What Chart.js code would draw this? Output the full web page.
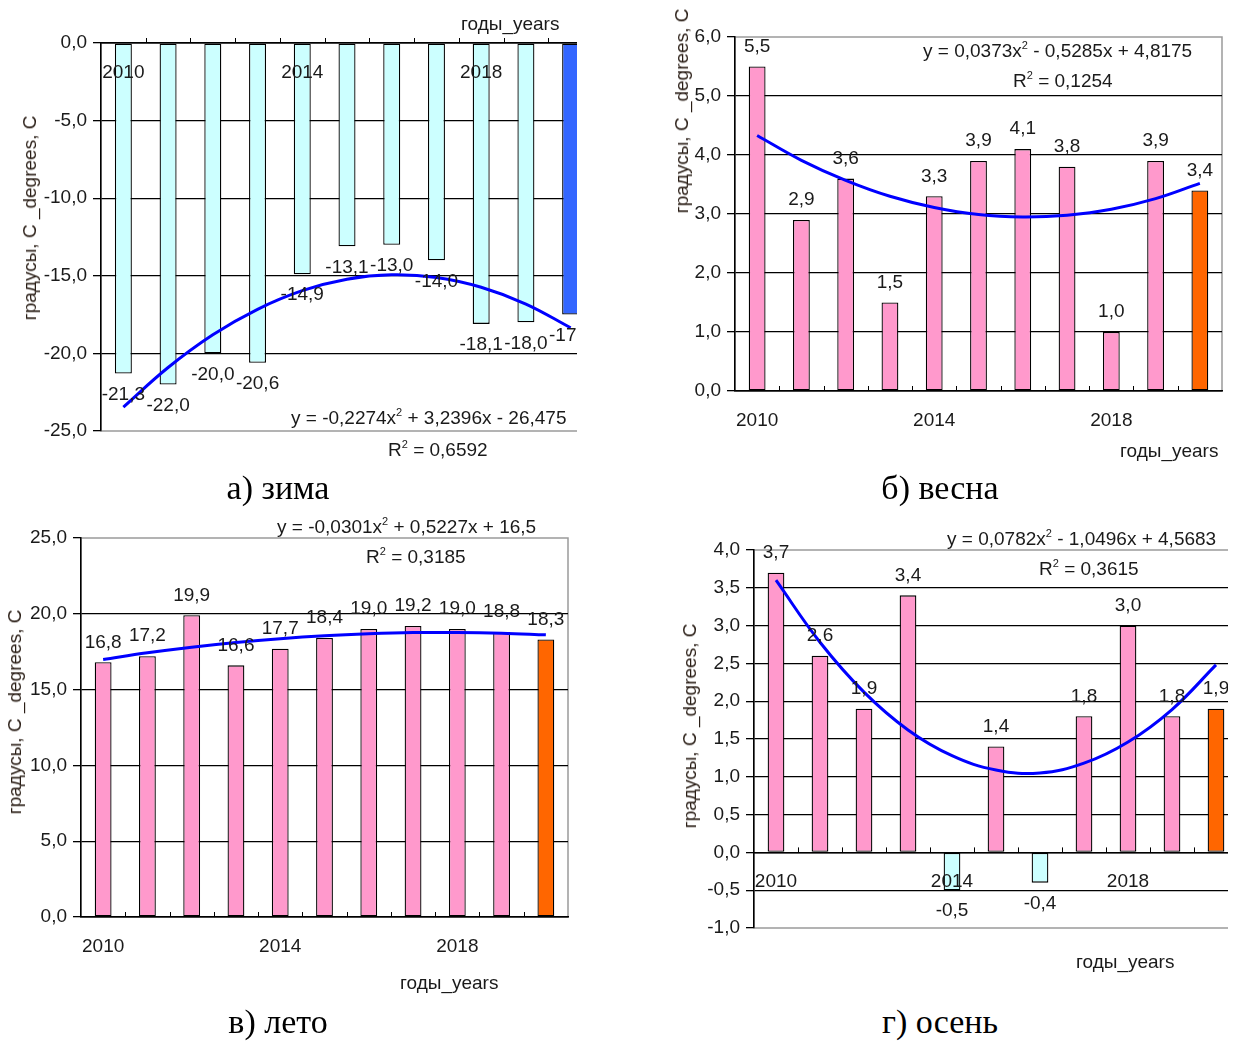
<!DOCTYPE html>
<html lang="ru">
<head>
<meta charset="utf-8">
<title>Температура воздуха по сезонам, 2010–2020</title>
<script src="https://cdn.jsdelivr.net/npm/chart.js@4.4.1/dist/chart.umd.min.js"></script>
<style>
  body { margin: 0; background: #fff; }
  #page { position: relative; width: 1244px; height: 1045px; overflow: hidden;
          font-family: "Liberation Sans", Arial, sans-serif; color: #1a1a1a; }
  .panel { position: absolute; overflow: hidden; }
  .panel canvas { position: absolute; left: 0; top: 0; }
  .txt { position: absolute; white-space: nowrap; font-size: 19px; line-height: 22px;
         transform: translateY(-50%); }
  .txt sup { font-size: 11px; vertical-align: 8px; line-height: 0; }
  .ytitle { position: absolute; white-space: nowrap; font-size: 19px; line-height: 22px;
            transform: translate(-50%, -50%) rotate(-90deg); color: #2a1e16; }
  .caption { position: absolute; white-space: nowrap; transform: translate(-50%, -50%);
             font-family: "Liberation Serif", "Times New Roman", serif; font-size: 34px; color: #000; }
</style>
</head>
<body>
<div id="page">
  <div class="panel" style="left:0;top:0;width:577px;height:470px;">
    <canvas id="zima" width="600" height="470"></canvas>
    <div class="txt" style="left:461px;top:24px;">годы_years</div>
    <div class="txt" style="left:291px;top:418px;">y = -0,2274x<sup>2</sup> + 3,2396x - 26,475</div>
  </div>
  <div class="panel" style="left:640px;top:0;width:604px;height:470px;">
    <canvas id="vesna" width="604" height="470"></canvas>
  </div>
  <div class="panel" style="left:0;top:510px;width:600px;height:500px;">
    <canvas id="leto" width="600" height="500"></canvas>
  </div>
  <div class="panel" style="left:640px;top:520px;width:588px;height:480px;">
    <canvas id="osen" width="604" height="480"></canvas>
  </div>

  <!-- подписи зима -->
  <div class="txt" style="left:388px;top:450px;">R<sup>2</sup> = 0,6592</div>
  <div class="ytitle" style="left:30px;top:218px;">градусы, С _degrees, С</div>
  <div class="caption" style="left:278px;top:488px;">а) зима</div>

  <!-- подписи весна -->
  <div class="txt" style="left:923px;top:51px;">y = 0,0373x<sup>2</sup> - 0,5285x + 4,8175</div>
  <div class="txt" style="left:1013px;top:81px;">R<sup>2</sup> = 0,1254</div>
  <div class="txt" style="left:1120px;top:451px;">годы_years</div>
  <div class="ytitle" style="left:682px;top:111px;">градусы, С _degrees, С</div>
  <div class="caption" style="left:940px;top:488px;">б) весна</div>

  <!-- подписи лето -->
  <div class="txt" style="left:277px;top:527px;">y = -0,0301x<sup>2</sup> + 0,5227x + 16,5</div>
  <div class="txt" style="left:366px;top:557px;">R<sup>2</sup> = 0,3185</div>
  <div class="txt" style="left:400px;top:983px;">годы_years</div>
  <div class="ytitle" style="left:15px;top:712px;">градусы, С _degrees, С</div>
  <div class="caption" style="left:278px;top:1022px;">в) лето</div>

  <!-- подписи осень -->
  <div class="txt" style="left:947px;top:539px;">y = 0,0782x<sup>2</sup> - 1,0496x + 4,5683</div>
  <div class="txt" style="left:1039px;top:569px;">R<sup>2</sup> = 0,3615</div>
  <div class="txt" style="left:1076px;top:962px;">годы_years</div>
  <div class="ytitle" style="left:690px;top:726px;">градусы, С _degrees, С</div>
  <div class="caption" style="left:940px;top:1022px;">г) осень</div>
</div>

<script>
// données
const years = ['2010', '2011', '2012', '2013', '2014', '2015', '2016', '2017', '2018', '2019', '2020'];
const xTickLabels = ['2010', '2014', '2018'];

const zimaTemps = [-21.3, -22.0, -20.0, -20.6, -14.9, -13.1, -13.0, -14.0, -18.1, -18.0, -17.5];
const zimaTrend = [-23.46, -20.91, -18.80, -17.16, -15.96, -15.22, -14.94, -15.11, -15.74, -16.82, -18.35];

const vesnaTemps = [5.5, 2.9, 3.6, 1.5, 3.3, 3.9, 4.1, 3.8, 1.0, 3.9, 3.4];
const vesnaTrend = [4.33, 3.91, 3.57, 3.30, 3.11, 2.99, 2.95, 2.98, 3.08, 3.26, 3.52];

const letoTemps = [16.8, 17.2, 19.9, 16.6, 17.7, 18.4, 19.0, 19.2, 19.0, 18.8, 18.3];
const letoTrend = [16.99, 17.43, 17.80, 18.11, 18.36, 18.55, 18.68, 18.76, 18.77, 18.72, 18.61];

const osenTemps = [3.7, 2.6, 1.9, 3.4, -0.5, 1.4, -0.4, 1.8, 3.0, 1.8, 1.9];
const osenTrend = [3.60, 2.78, 2.12, 1.62, 1.28, 1.09, 1.05, 1.18, 1.46, 1.89, 2.48];

const PINK = '#FF99CC';
const CYAN = '#CCFFFF';
const FONT = { family: '"Liberation Sans", Arial, sans-serif', size: 19 };
const fmt = v => v.toFixed(1).replace('.', ',');

// petits traits sur l'axe des années + cadre gris + étiquettes des barres
const decorPlugin = {
  id: 'decor',
  beforeDraw(chart) {
    const a = chart.chartArea;
    const ctx = chart.ctx;
    ctx.save();
    ctx.strokeStyle = '#9a9a9a';
    ctx.lineWidth = 1.5;
    ctx.strokeRect(a.left, a.top, a.right - a.left, a.bottom - a.top);
    ctx.restore();
  },
  afterDatasetsDraw(chart) {
    const ctx = chart.ctx;
    const x = chart.scales.x;
    const y0 = chart.scales.y.getPixelForValue(0);
    const n = chart.data.labels.length;
    const step = (x.right - x.left) / n;
    ctx.save();
    ctx.strokeStyle = '#000';
    ctx.lineWidth = 1;
    for (let i = 1; i < n; i++) {
      const px = Math.round(x.left + i * step) + 0.5;
      ctx.beginPath();
      ctx.moveTo(px, y0);
      ctx.lineTo(px, y0 - 5);
      ctx.stroke();
    }
    const values = chart.data.datasets[1].data;
    const meta = chart.getDatasetMeta(1);
    ctx.fillStyle = '#1a1a1a';
    ctx.font = '19px "Liberation Sans", Arial, sans-serif';
    ctx.textAlign = 'center';
    ctx.textBaseline = 'middle';
    meta.data.forEach((bar, i) => {
      const v = values[i];
      ctx.fillText(fmt(v), bar.x, v < 0 ? bar.y + 21 : bar.y - 20);
    });
    ctx.restore();
  }
};

function makePanel(id, temps, trend, opt) {
  const colors = temps.map((v, i) => {
    if (i === temps.length - 1) return opt.lastColor;
    return v < 0 ? CYAN : PINK;
  });
  return new Chart(document.getElementById(id), {
    type: 'bar',
    data: {
      labels: years,
      datasets: [
        {
          type: 'line',
          data: trend,
          borderColor: '#0000FF',
          borderWidth: 3,
          pointRadius: 0,
          tension: 0.4,
          fill: false,
          order: 0
        },
        {
          type: 'bar',
          data: temps,
          backgroundColor: colors,
          borderColor: '#000',
          borderWidth: 1.3,
          borderSkipped: false,
          categoryPercentage: 1,
          barPercentage: 0.38,
          order: 1
        }
      ]
    },
    options: {
      responsive: false,
      animation: false,
      devicePixelRatio: 1,
      layout: { padding: opt.padding },
      plugins: { legend: { display: false }, tooltip: { enabled: false } },
      scales: {
        x: {
          position: { y: 0 },
          grid: { display: false },
          border: { display: true, color: '#000', width: 1.5, z: 1 },
          ticks: {
            z: 1,
            autoSkip: false,
            maxRotation: 0,
            padding: 10,
            color: '#1a1a1a',
            font: FONT,
            callback: (val, idx) => (xTickLabels.includes(years[idx]) ? years[idx] : '')
          }
        },
        y: {
          min: opt.min,
          max: opt.max,
          afterFit: (scale) => { scale.width = opt.yWidth; },
          border: { display: true, color: '#000', width: 1.5 },
          grid: {
            color: (c) => (c.tick && (c.tick.value === opt.min || c.tick.value === opt.max) && c.tick.value !== 0 ? 'rgba(0,0,0,0)' : '#000'),
            tickColor: '#000',
            lineWidth: 1.3,
            tickLength: 8
          },
          ticks: {
            stepSize: opt.step,
            padding: 6,
            color: '#1a1a1a',
            font: FONT,
            callback: (v) => fmt(v)
          }
        }
      }
    },
    plugins: [decorPlugin]
  });
}

makePanel('zima', zimaTemps, zimaTrend, {
  min: -25, max: 0, step: 5, lastColor: '#3366FF', yWidth: 101,
  padding: { left: 0, top: 43, right: 7, bottom: 39 }
});
makePanel('vesna', vesnaTemps, vesnaTrend, {
  min: 0, max: 6, step: 1, lastColor: '#FF6600', yWidth: 95,
  padding: { left: 0, top: 37, right: 22, bottom: 79 }
});
makePanel('leto', letoTemps, letoTrend, {
  min: 0, max: 25, step: 5, lastColor: '#FF6600', yWidth: 81,
  padding: { left: 0, top: 28, right: 32, bottom: 93 }
});
makePanel('osen', osenTemps, osenTrend, {
  min: -1, max: 4, step: 0.5, lastColor: '#FF6600', yWidth: 114,
  padding: { left: 0, top: 30, right: 6, bottom: 72 }
});
</script>
</body>
</html>
